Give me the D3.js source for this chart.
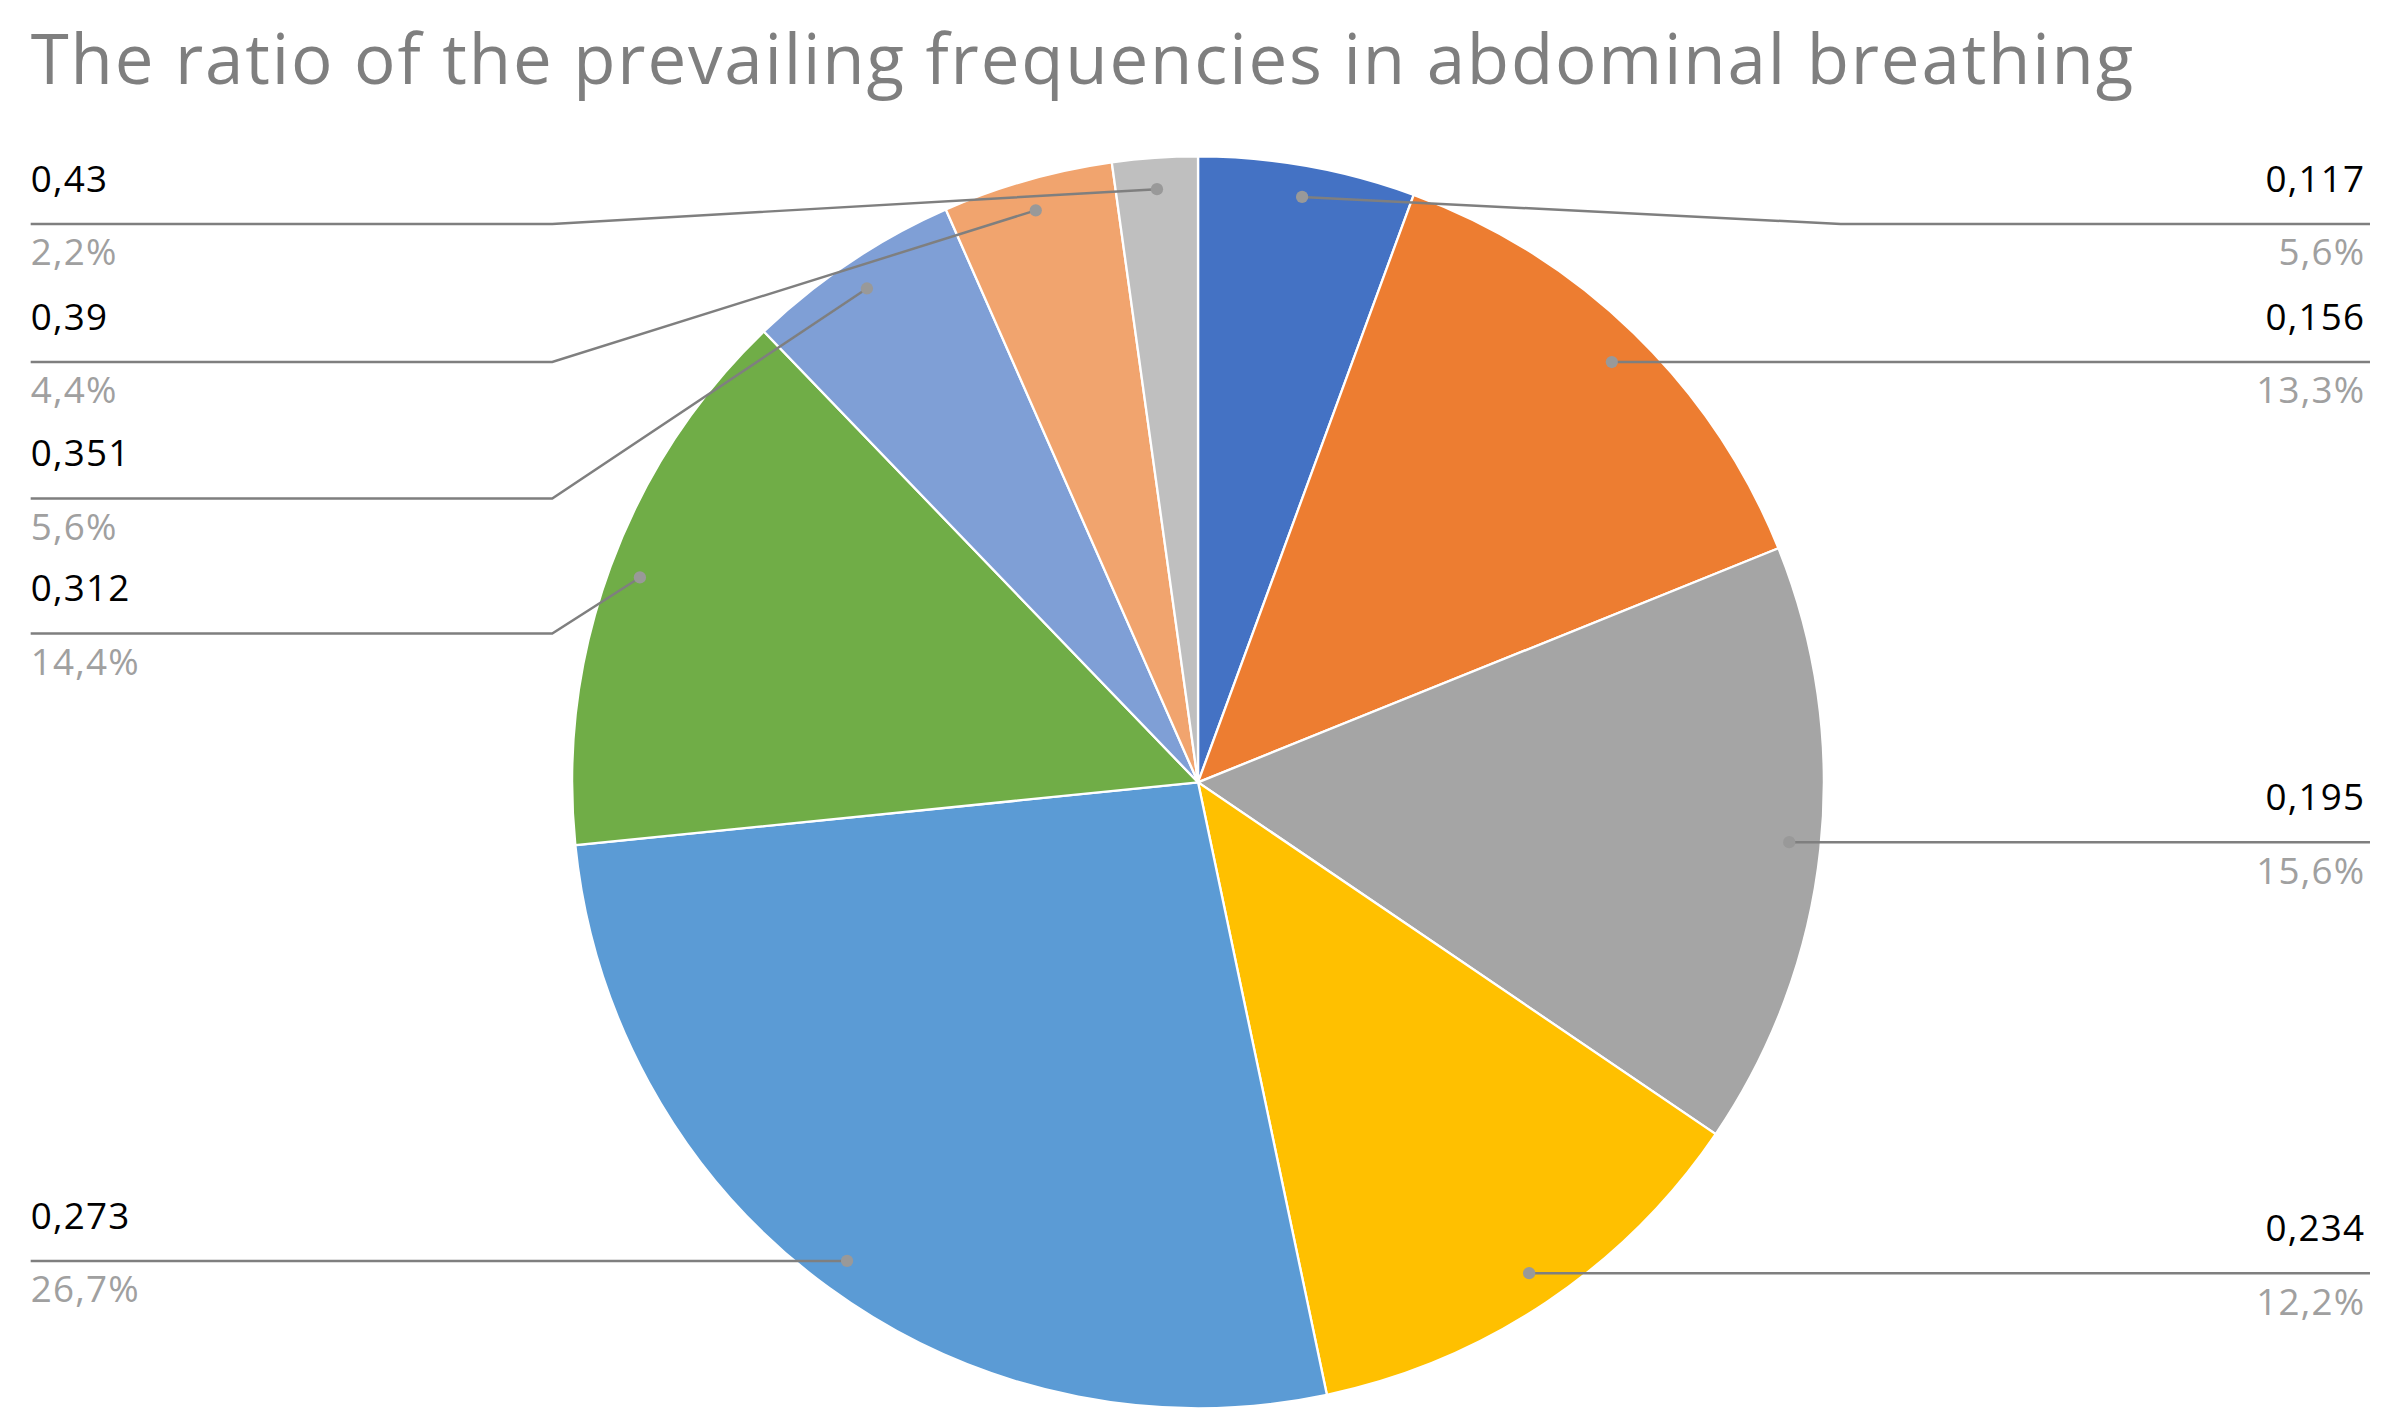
<!DOCTYPE html>
<html><head><meta charset="utf-8">
<script src="https://cdn.jsdelivr.net/npm/d3@7"></script>
<style>body{margin:0;background:#fff}svg{display:block}</style>
</head><body>
<svg id="c" width="2393" height="1423"></svg>
<script>
const categories = ["0,117","0,156","0,195","0,234","0,273","0,312","0,351","0,39","0,43"];
const values = [5.6,13.3,15.6,12.2,26.7,14.4,5.6,4.4,2.2];
const percentLabels = ["5,6%","13,3%","15,6%","12,2%","26,7%","14,4%","5,6%","4,4%","2,2%"];
const colors = ["#4472C4","#ED7D31","#A5A5A5","#FFC000","#5B9BD5","#70AD47","#7F9FD6","#F1A46E","#BFBFBF"];
// label layout (display units): side and line y
const labelSide = ["r","r","r","r","l","l","l","l","l"];
const labelY = [146,236,549,830,822,413,325,236,146];

const s = 2393/1560;
const svg = d3.select("#c");
const g0 = svg.append("g").attr("transform",`scale(${s})`);
g0.append("text").attr("x",20).attr("y",55).text("The ratio of the prevailing frequencies in abdominal breathing")
  .attr("font-family","Open Sans, sans-serif").attr("font-size",45).attr("letter-spacing",1.2).attr("fill","#7f7f7f");

const cx=781, cy=510, R=408;
const pie = d3.pie().sort(null).value(d=>d);
const arcs = pie(values);
const arc = d3.arc().innerRadius(0).outerRadius(R);
const g = g0.append("g").attr("transform",`translate(${cx},${cy})`);
g.selectAll("path").data(arcs).join("path").attr("d",arc)
  .attr("fill",(d,i)=>colors[i]).attr("stroke","#fff").attr("stroke-width",1.5);

const pArc = d3.arc().innerRadius(R*0.95).outerRadius(R*0.95);
arcs.forEach((a,i)=>{
  const [px,py] = pArc.centroid(a);
  const ax=cx+px, ay=cy+py, y=labelY[i];
  let pts;
  const flat = Math.abs(y-ay)<6;
  if(labelSide[i]==="r"){
    pts = flat ? [[ax,y],[1545,y]] : [[ax,ay],[1200,y],[1545,y]];
  } else {
    pts = flat ? [[20,y],[ax,y]] : [[ax,ay],[360,y],[20,y]];
  }
  g0.append("path").attr("d",d3.line()(pts)).attr("fill","none").attr("stroke","#7f7f7f").attr("stroke-width",1.6);
  g0.append("circle").attr("cx",ax).attr("cy",flat?y:ay).attr("r",4).attr("fill","#999");
  const right = labelSide[i]==="r";
  const tx = right?1542:20;
  g0.append("text").attr("x",tx).attr("y",y-21).attr("text-anchor",right?"end":"start")
    .attr("font-family","Open Sans, sans-serif").attr("font-size",24).attr("letter-spacing",0.8).attr("fill","#000").text(categories[i]);
  g0.append("text").attr("x",tx).attr("y",y+27).attr("text-anchor",right?"end":"start")
    .attr("font-family","Open Sans, sans-serif").attr("font-size",24).attr("letter-spacing",0.8).attr("fill","#a0a0a0").text(percentLabels[i]);
});
</script>
</body></html>
